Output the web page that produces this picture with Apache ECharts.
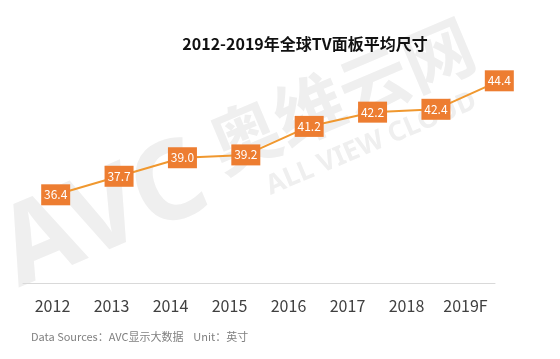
<!DOCTYPE html>
<html><head><meta charset="utf-8">
<script src="https://cdn.jsdelivr.net/npm/echarts@6/dist/echarts.min.js"></script>
<style>html,body{margin:0;padding:0;background:#fff}#c{width:560px;height:359px}</style>
</head><body><div id="c"></div>
<script>
const categories = ['2012','2013','2014','2015','2016','2017','2018','2019F'];
const sizes = [36.4, 37.7, 39.0, 39.2, 41.2, 42.2, 42.4, 44.4];
const titleText = '2012-2019年全球TV面板平均尺寸';
const footText = 'Data Sources：AVC显示大数据    Unit：英寸';

const chart = echarts.init(document.getElementById('c'), null, {renderer:'canvas'});
const font = '"Microsoft YaHei","Noto Sans CJK SC","Noto Sans",sans-serif';
const wm = '#efefef';
chart.setOption({
  animation:false,
  backgroundColor:'#fff',
  title:{text:titleText,left:300,top:31,textAlign:'center',
    textStyle:{fontSize:16,fontWeight:'bold',color:'#111',fontFamily:font}},
  graphic:[
    {type:'group',x:24,y:300,rotation:0.4,z:-10,silent:true,children:[
      {type:'text',x:0,y:-100,style:{text:'AVC',fontSize:110,fontWeight:'bold',fontFamily:'"Noto Sans",sans-serif',fill:wm}},
      {type:'text',x:232,y:-100,style:{text:'奥维云网',fontSize:70,fontWeight:'bold',fontFamily:font,fill:wm}},
      {type:'text',x:268,y:-22,style:{text:'ALL VIEW CLOUD',fontSize:27,fontWeight:'bold',fontFamily:'"Noto Sans",sans-serif',fill:wm}}
    ]},
    {type:'text',left:31,top:331,style:{text:footText,fontSize:11,fill:'#808080',fontFamily:font}}
  ],
  grid:[
    {left:24,width:507,top:1,height:285},
    {left:23,width:472,top:1,height:282}
  ],
  xAxis:[
    {type:'category',data:categories,gridIndex:0,show:false,boundaryGap:true},
    {type:'category',data:categories,gridIndex:1,boundaryGap:true,
      axisLine:{lineStyle:{color:'#d9d9d9',width:1}},axisTick:{show:false},
      axisLabel:{fontSize:16,color:'#404040',margin:15,fontFamily:font}}
  ],
  yAxis:[
    {type:'value',gridIndex:0,min:30,max:50,show:false},
    {type:'value',gridIndex:1,min:30,max:50,show:false}
  ],
  series:[{
    type:'line',xAxisIndex:0,yAxisIndex:0,data:sizes,
    symbol:'circle',symbolSize:1,showSymbol:true,
    itemStyle:{color:'#F0982F'},
    lineStyle:{color:'#F0982F',width:2},
    label:{show:true,position:'inside',formatter:p=>p.value.toFixed(1),
      backgroundColor:'#ED7D31',color:'#fff',fontSize:12,fontFamily:font,
      width:29,height:21,lineHeight:21,align:'center',verticalAlign:'middle',padding:0}
  }]
});
</script></body></html>
